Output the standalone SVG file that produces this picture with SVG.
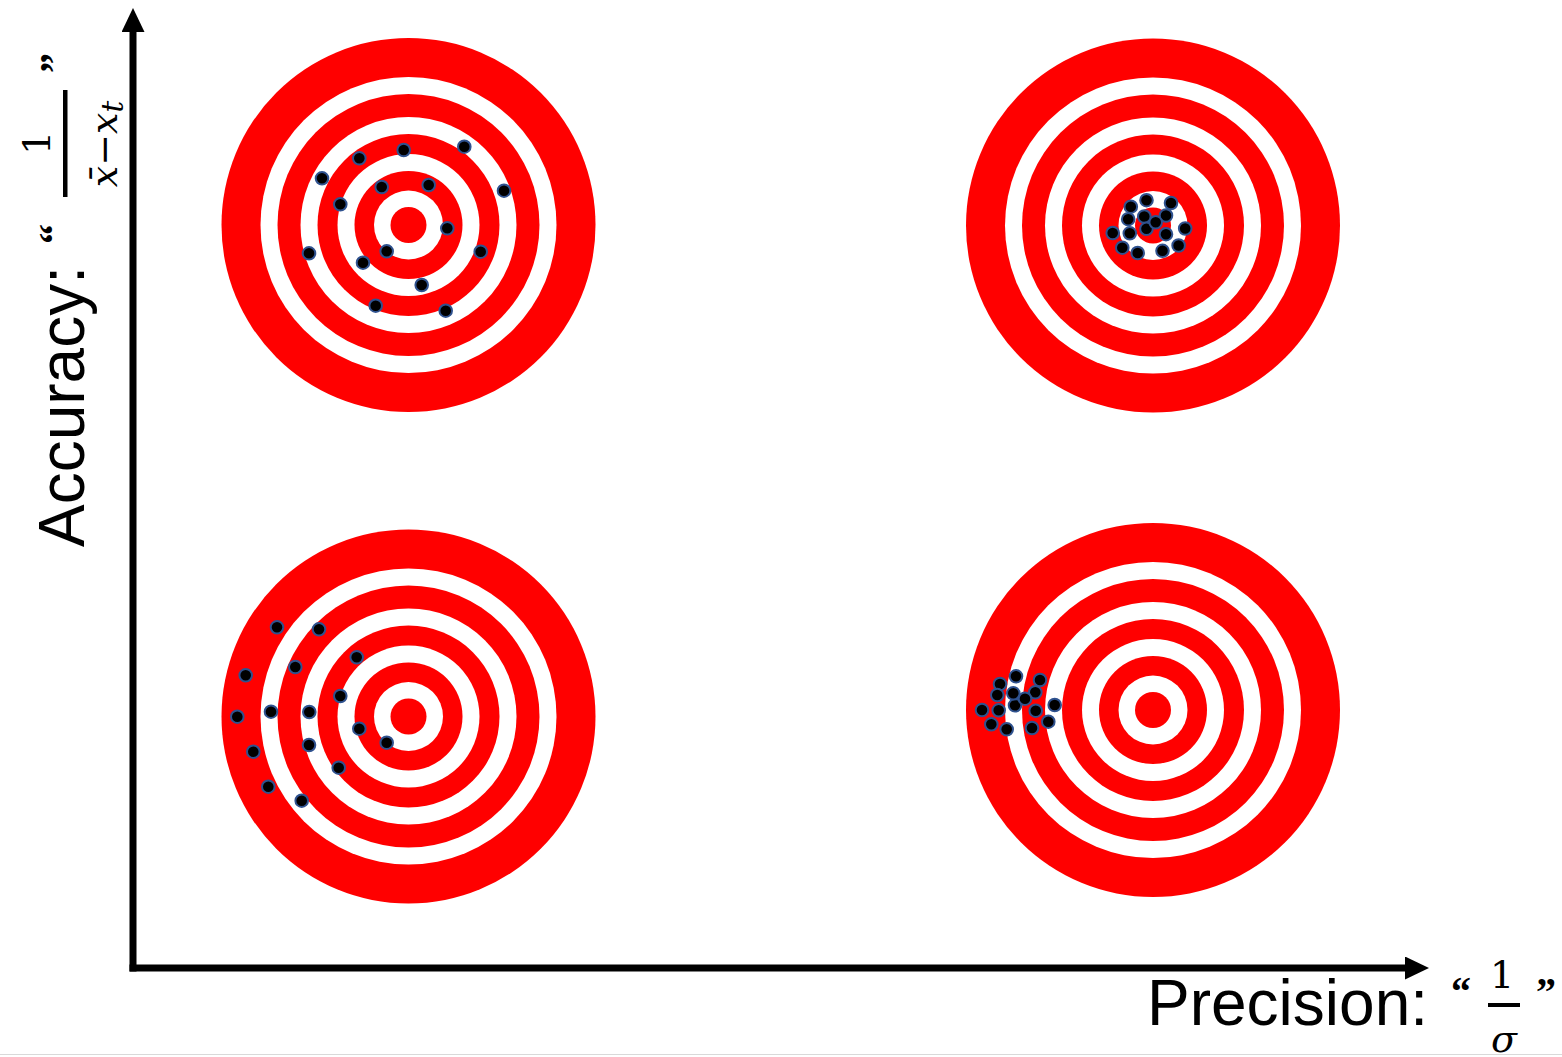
<svg xmlns="http://www.w3.org/2000/svg" xmlns:xlink="http://www.w3.org/1999/xlink" width="1562" height="1057" viewBox="0 0 1562 1057">
<style>
.red{fill:#FF0000}
.wht{fill:#FFFFFF}
.dot{fill:#000000;stroke:#2F528F;stroke-width:2}
.axis{stroke:#000000;stroke-width:7;fill:none}
.lbl{font-family:"Liberation Sans",Arial,sans-serif;font-size:64px;fill:#000}
.quo{font-family:"Liberation Serif","Times New Roman",serif;font-weight:bold;font-size:40px;fill:#000}
.math{font-family:"DejaVu Serif","Liberation Serif",serif;font-size:38px;fill:#000}
.it{font-style:italic}
</style>
<defs>
<g id="target">
<circle class="red" r="187"/>
<circle class="wht" r="148"/>
<circle class="red" r="131"/>
<circle class="wht" r="108"/>
<circle class="red" r="91"/>
<circle class="wht" r="71"/>
<circle class="red" r="54"/>
<circle class="wht" r="34.5"/>
<circle class="red" r="18"/>
</g>
<marker id="arrow" markerUnits="userSpaceOnUse" markerWidth="24" markerHeight="23" refX="0" refY="11.5" orient="auto" viewBox="0 0 24 23">
<path d="M0,0 L24,11.5 L0,23 Z" fill="#000"/>
</marker>
</defs>
<rect width="1562" height="1057" fill="#FFFFFF"/>
<line x1="0" y1="1054.5" x2="1562" y2="1054.5" stroke="#D9D9D9" stroke-width="1"/>

<g id="target-top-left">
<use xlink:href="#target" href="#target" x="408.5" y="225"/>
<circle class="dot" cx="403.7" cy="150" r="6.3"/>
<circle class="dot" cx="464.3" cy="146.7" r="6.3"/>
<circle class="dot" cx="359.3" cy="158.3" r="6.3"/>
<circle class="dot" cx="322" cy="178.3" r="6.3"/>
<circle class="dot" cx="504" cy="190.7" r="6.3"/>
<circle class="dot" cx="381.7" cy="187" r="6.3"/>
<circle class="dot" cx="428.7" cy="185" r="6.3"/>
<circle class="dot" cx="340.3" cy="204.3" r="6.3"/>
<circle class="dot" cx="447.3" cy="228.3" r="6.3"/>
<circle class="dot" cx="309" cy="253.3" r="6.3"/>
<circle class="dot" cx="386.7" cy="251.3" r="6.3"/>
<circle class="dot" cx="480.7" cy="251.7" r="6.3"/>
<circle class="dot" cx="363" cy="262.7" r="6.3"/>
<circle class="dot" cx="421.7" cy="285" r="6.3"/>
<circle class="dot" cx="375.7" cy="305.7" r="6.3"/>
<circle class="dot" cx="445.7" cy="310.7" r="6.3"/>
</g>

<g id="target-top-right">
<use xlink:href="#target" href="#target" x="1153" y="225.5"/>
<circle class="dot" cx="1146.5" cy="200.2" r="6.3"/>
<circle class="dot" cx="1171" cy="203" r="6.3"/>
<circle class="dot" cx="1130.8" cy="206.7" r="6.3"/>
<circle class="dot" cx="1144.3" cy="216.5" r="6.3"/>
<circle class="dot" cx="1166" cy="215.5" r="6.3"/>
<circle class="dot" cx="1128.2" cy="219.2" r="6.3"/>
<circle class="dot" cx="1146.5" cy="228.8" r="6.3"/>
<circle class="dot" cx="1155.7" cy="222.3" r="6.3"/>
<circle class="dot" cx="1185.2" cy="228.5" r="6.3"/>
<circle class="dot" cx="1112.7" cy="233" r="6.3"/>
<circle class="dot" cx="1129.8" cy="233.3" r="6.3"/>
<circle class="dot" cx="1166" cy="234.2" r="6.3"/>
<circle class="dot" cx="1122.3" cy="247.7" r="6.3"/>
<circle class="dot" cx="1178.6" cy="245.5" r="6.3"/>
<circle class="dot" cx="1137.7" cy="253" r="6.3"/>
<circle class="dot" cx="1162.5" cy="250.8" r="6.3"/>
</g>

<g id="target-bottom-left">
<use xlink:href="#target" href="#target" x="408.5" y="716.5"/>
<circle class="dot" cx="277" cy="627.3" r="6.3"/>
<circle class="dot" cx="319" cy="629.3" r="6.3"/>
<circle class="dot" cx="356.7" cy="657.3" r="6.3"/>
<circle class="dot" cx="295.3" cy="667" r="6.3"/>
<circle class="dot" cx="245.7" cy="675.3" r="6.3"/>
<circle class="dot" cx="340.3" cy="696" r="6.3"/>
<circle class="dot" cx="237.3" cy="716.7" r="6.3"/>
<circle class="dot" cx="271" cy="711.7" r="6.3"/>
<circle class="dot" cx="309.3" cy="712" r="6.3"/>
<circle class="dot" cx="359.3" cy="728.7" r="6.3"/>
<circle class="dot" cx="386.7" cy="742.7" r="6.3"/>
<circle class="dot" cx="309" cy="745" r="6.3"/>
<circle class="dot" cx="253.3" cy="751.7" r="6.3"/>
<circle class="dot" cx="338.7" cy="767.7" r="6.3"/>
<circle class="dot" cx="268.3" cy="786.7" r="6.3"/>
<circle class="dot" cx="301.7" cy="800.7" r="6.3"/>
</g>

<g id="target-bottom-right">
<use xlink:href="#target" href="#target" x="1153" y="710"/>
<circle class="dot" cx="1016" cy="676.3" r="6.3"/>
<circle class="dot" cx="1040" cy="680" r="6.3"/>
<circle class="dot" cx="1000" cy="684" r="6.3"/>
<circle class="dot" cx="1035.3" cy="692.3" r="6.3"/>
<circle class="dot" cx="997.3" cy="695" r="6.3"/>
<circle class="dot" cx="1015" cy="705.3" r="6.3"/>
<circle class="dot" cx="1013.3" cy="693.3" r="6.3"/>
<circle class="dot" cx="1025" cy="698.7" r="6.3"/>
<circle class="dot" cx="1054.7" cy="705" r="6.3"/>
<circle class="dot" cx="982" cy="710" r="6.3"/>
<circle class="dot" cx="998.7" cy="710.3" r="6.3"/>
<circle class="dot" cx="1035.7" cy="710.7" r="6.3"/>
<circle class="dot" cx="991.3" cy="724.3" r="6.3"/>
<circle class="dot" cx="1048.3" cy="721.7" r="6.3"/>
<circle class="dot" cx="1006.7" cy="729.3" r="6.3"/>
<circle class="dot" cx="1032" cy="728" r="6.3"/>
</g>

<g id="axes">
<line class="axis" x1="133" y1="971.5" x2="133" y2="32" marker-end="url(#arrow)"/>
<line class="axis" x1="129.5" y1="968" x2="1405" y2="968" marker-end="url(#arrow)"/>
</g>

<g id="label-x">
<text class="lbl" x="1147" y="1025">Precision:</text>
<text class="quo" x="1451" y="1005">“</text>
<text class="math" x="1502" y="988" text-anchor="middle">1</text>
<rect x="1488" y="1003" width="32" height="4" fill="#000"/>
<text class="math it" x="1504" y="1052" text-anchor="middle" font-size="42">σ</text>
<text class="quo" x="1536" y="1005">”</text>
</g>

<g id="label-y" transform="rotate(-90)">
<text class="lbl" x="-266" y="84" text-anchor="end" font-size="61">Accuracy:</text>
<text class="quo" x="-244" y="67">“</text>
<text class="math" x="-143" y="50" text-anchor="middle">1</text>
<rect x="-197" y="63" width="107" height="4.5" fill="#000"/>
<text class="math" x="-144" y="117" text-anchor="middle" font-size="42"><tspan class="it">x̄</tspan>−<tspan class="it">x</tspan><tspan class="it" font-size="29" dy="6">t</tspan></text>
<text class="quo" x="-73" y="67">”</text>
</g>
</svg>
